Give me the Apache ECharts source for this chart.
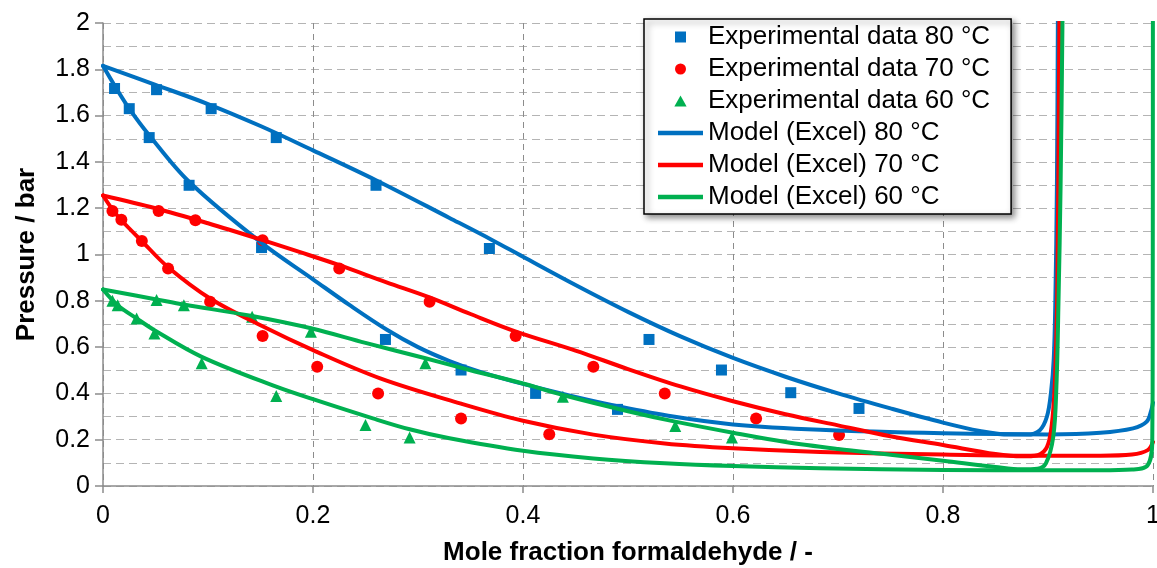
<!DOCTYPE html>
<html>
<head>
<meta charset="utf-8">
<title>Vapour-liquid equilibrium of formaldehyde solutions</title>
<script src="https://cdn.jsdelivr.net/npm/echarts@6/dist/echarts.min.js"></script>
<style>
  html, body { margin: 0; padding: 0; background: #fff; }
  #chart { width: 1157px; height: 568px; }
</style>
</head>
<body>
<div id="chart"></div>
<script>
// Axis ranges and ticks
const xTickStep = 0.2;
const yTickStep = 0.2;
const xRange = [0, 1];
const yRange = [0, 2];

// Experimental data [mole fraction formaldehyde, pressure / bar]
const exp80 = [
  [0.011, 1.717], [0.051, 1.712], [0.025, 1.630], [0.103, 1.630],
  [0.044, 1.505], [0.165, 1.505], [0.082, 1.299], [0.260, 1.299],
  [0.151, 1.030], [0.368, 1.026], [0.269, 0.633], [0.520, 0.633],
  [0.341, 0.501], [0.589, 0.501], [0.412, 0.400], [0.655, 0.403],
  [0.490, 0.331], [0.720, 0.335]
];
const exp70 = [
  [0.009, 1.188], [0.053, 1.188], [0.0175, 1.150], [0.088, 1.148],
  [0.037, 1.058], [0.152, 1.062], [0.062, 0.940], [0.225, 0.940],
  [0.102, 0.796], [0.311, 0.796], [0.152, 0.648], [0.393, 0.648],
  [0.204, 0.515], [0.467, 0.515], [0.262, 0.400], [0.535, 0.400],
  [0.341, 0.292], [0.622, 0.292], [0.425, 0.224], [0.701, 0.220]
];
const exp60 = [
  [0.009, 0.800], [0.051, 0.803], [0.014, 0.781], [0.077, 0.781],
  [0.032, 0.724], [0.142, 0.731], [0.049, 0.659], [0.198, 0.666],
  [0.094, 0.530], [0.307, 0.530], [0.165, 0.389], [0.438, 0.386],
  [0.250, 0.263], [0.545, 0.259], [0.292, 0.210], [0.599, 0.210]
];

// Model curves: dew branch (upper) and bubble branch (lower) per temperature
const model80Dew = [
  [0, 1.815], [0.05, 1.733], [0.10, 1.650], [0.15, 1.555], [0.20, 1.450],
  [0.26, 1.321], [0.33, 1.158], [0.37, 1.064], [0.40, 0.990], [0.45, 0.868],
  [0.50, 0.752], [0.55, 0.646], [0.60, 0.553], [0.65, 0.472], [0.70, 0.400],
  [0.75, 0.335], [0.80, 0.274], [0.835, 0.238], [0.863, 0.222], [0.88, 0.222],
  [0.892, 0.240], [0.899, 0.300], [0.903, 0.410], [0.9055, 0.550],
  [0.907, 0.800], [0.9085, 1.300], [0.9095, 2.100]
];
const model80Bub = [
  [0, 1.815], [0.011, 1.730], [0.025, 1.630], [0.044, 1.515], [0.082, 1.314],
  [0.151, 1.050], [0.20, 0.893], [0.235, 0.781], [0.27, 0.676], [0.30, 0.600],
  [0.33, 0.540], [0.36, 0.492], [0.40, 0.441], [0.45, 0.385], [0.49, 0.345],
  [0.543, 0.300], [0.60, 0.266], [0.683, 0.243], [0.80, 0.228], [0.90, 0.223],
  [0.95, 0.230], [0.981, 0.249], [0.994, 0.278], [0.9984, 0.328], [1.0, 0.360]
];
const model70Dew = [
  [0, 1.255], [0.05, 1.200], [0.10, 1.135], [0.15, 1.065], [0.187, 1.011],
  [0.225, 0.954], [0.27, 0.880], [0.311, 0.815], [0.35, 0.743], [0.394, 0.666],
  [0.45, 0.585], [0.50, 0.505], [0.55, 0.430], [0.60, 0.366], [0.65, 0.310],
  [0.70, 0.262], [0.75, 0.215], [0.80, 0.177], [0.85, 0.138], [0.875, 0.128],
  [0.89, 0.133], [0.898, 0.160], [0.902, 0.215], [0.905, 0.330], [0.907, 0.500],
  [0.909, 0.900], [0.911, 2.100]
];
const model70Bub = [
  [0, 1.255], [0.009, 1.195], [0.0175, 1.148], [0.037, 1.058], [0.062, 0.945],
  [0.102, 0.810], [0.152, 0.690], [0.20, 0.587], [0.264, 0.465], [0.34, 0.357],
  [0.40, 0.282], [0.467, 0.222], [0.535, 0.184], [0.60, 0.163], [0.683, 0.147],
  [0.80, 0.136], [0.90, 0.131], [0.95, 0.131], [0.98, 0.136], [0.995, 0.155],
  [1.0, 0.190]
];
const model60Dew = [
  [0, 0.849], [0.051, 0.806], [0.077, 0.784], [0.142, 0.734], [0.20, 0.679],
  [0.25, 0.618], [0.308, 0.551], [0.35, 0.500], [0.40, 0.443], [0.438, 0.393],
  [0.50, 0.323], [0.545, 0.278], [0.60, 0.230], [0.65, 0.190], [0.70, 0.160],
  [0.75, 0.135], [0.80, 0.109], [0.85, 0.082], [0.875, 0.072], [0.89, 0.075],
  [0.898, 0.098], [0.905, 0.213], [0.908, 0.430], [0.910, 0.800],
  [0.912, 1.300], [0.914, 2.100]
];
const model60Bub = [
  [0, 0.849], [0.014, 0.781], [0.032, 0.724], [0.049, 0.673], [0.094, 0.558],
  [0.165, 0.429], [0.20, 0.375], [0.257, 0.292], [0.292, 0.245], [0.33, 0.206],
  [0.40, 0.152], [0.467, 0.119], [0.535, 0.098], [0.60, 0.086], [0.683, 0.077],
  [0.80, 0.069], [0.90, 0.068], [0.95, 0.068], [0.98, 0.071], [0.995, 0.090],
  [0.9993, 0.200], [0.9997, 0.600], [0.9999, 2.100]
];

const names = {
  exp80: 'Experimental data 80 °C',
  exp70: 'Experimental data 70 °C',
  exp60: 'Experimental data 60 °C',
  mod80: 'Model (Excel) 80 °C',
  mod70: 'Model (Excel) 70 °C',
  mod60: 'Model (Excel) 60 °C'
};

const BLUE = '#0070C0';
const RED = '#FF0000';
const GREEN = '#00B050';
const FONT = '"Liberation Sans", Arial, sans-serif';

function scatterSeries(name, data, symbol, size, color) {
  return {
    name, type: 'scatter', data, symbol, symbolSize: size,
    itemStyle: { color, opacity: 1 }, z: 2
  };
}
function modelSeries(name, data, color) {
  return {
    name, type: 'line', data, showSymbol: false, symbol: 'none',
    smooth: 0.35, clip: true,
    itemStyle: { color },
    lineStyle: { color, width: 4, cap: 'round', join: 'round' }, z: 3
  };
}

const chart = echarts.init(document.getElementById('chart'), null, { renderer: 'canvas' });

chart.setOption({
  animation: false,
  backgroundColor: '#fff',
  textStyle: { fontFamily: FONT },
  grid: {
    left: 103, right: 4, top: 23, bottom: 82,
    containLabel: false, outerBoundsMode: 'none'
  },
  xAxis: {
    type: 'value', min: xRange[0], max: xRange[1], interval: xTickStep,
    name: 'Mole fraction formaldehyde / -',
    nameLocation: 'middle', nameGap: 54,
    nameTextStyle: { color: '#000', fontSize: 26, fontWeight: 'bold', fontFamily: FONT },
    axisLine: { show: true, onZero: false, lineStyle: { color: '#8c8c8c', width: 1.5 } },
    axisTick: { show: true, length: 7, lineStyle: { color: '#8c8c8c', width: 1.5 } },
    axisLabel: { color: '#000', fontSize: 25, margin: 18, fontFamily: FONT },
    splitLine: { show: true, lineStyle: { color: '#8c8c8c', width: 1, type: [6, 5] } }
  },
  yAxis: {
    type: 'value', min: yRange[0], max: yRange[1], interval: yTickStep,
    name: 'Pressure / bar',
    nameLocation: 'middle', nameGap: 63,
    nameTextStyle: { color: '#000', fontSize: 26, fontWeight: 'bold', fontFamily: FONT },
    axisLine: { show: true, lineStyle: { color: '#8c8c8c', width: 1.5 } },
    axisTick: { show: true, length: 8, lineStyle: { color: '#8c8c8c', width: 1.5 } },
    axisLabel: { color: '#000', fontSize: 25, margin: 13, fontFamily: FONT },
    splitLine: { show: true, lineStyle: { color: '#b4b4b4', width: 1, type: [8, 5] } },
    minorTick: { show: false, splitNumber: 2 },
    minorSplitLine: { show: true, lineStyle: { color: '#b4b4b4', width: 1, type: [8, 5] } }
  },
  legend: {
    orient: 'vertical',
    left: 644, top: 19,
    padding: [5, 21, 4, 14],
    itemGap: 6,
    itemWidth: 45, itemHeight: 11,
    selectedMode: false,
    backgroundColor: '#fff',
    borderColor: '#000', borderWidth: 1.5, borderRadius: 0,
    shadowBlur: 6, shadowColor: 'rgba(0,0,0,0.45)', shadowOffsetX: 3, shadowOffsetY: 3,
    textStyle: { color: '#000', fontSize: 26, fontFamily: FONT },
    data: [
      { name: names.exp80, icon: 'path://M0,0H10V10H0Z', itemStyle: { color: BLUE } },
      { name: names.exp70, icon: 'circle', itemStyle: { color: RED } },
      { name: names.exp60, icon: 'path://M5,0L10,9H0Z', itemStyle: { color: GREEN } },
      { name: names.mod80, icon: 'path://M0,0H45V4.5H0Z', itemStyle: { color: BLUE } },
      { name: names.mod70, icon: 'path://M0,0H45V4.5H0Z', itemStyle: { color: RED } },
      { name: names.mod60, icon: 'path://M0,0H45V4.5H0Z', itemStyle: { color: GREEN } }
    ]
  },
  series: [
    scatterSeries(names.exp80, exp80, 'rect', 11, BLUE),
    scatterSeries(names.exp70, exp70, 'circle', 12, RED),
    scatterSeries(names.exp60, exp60, 'triangle', 12, GREEN),
    modelSeries(names.mod80, model80Dew, BLUE),
    modelSeries(names.mod80, model80Bub, BLUE),
    modelSeries(names.mod70, model70Dew, RED),
    modelSeries(names.mod70, model70Bub, RED),
    modelSeries(names.mod60, model60Dew, GREEN),
    modelSeries(names.mod60, model60Bub, GREEN)
  ]
});
</script>
</body>
</html>
